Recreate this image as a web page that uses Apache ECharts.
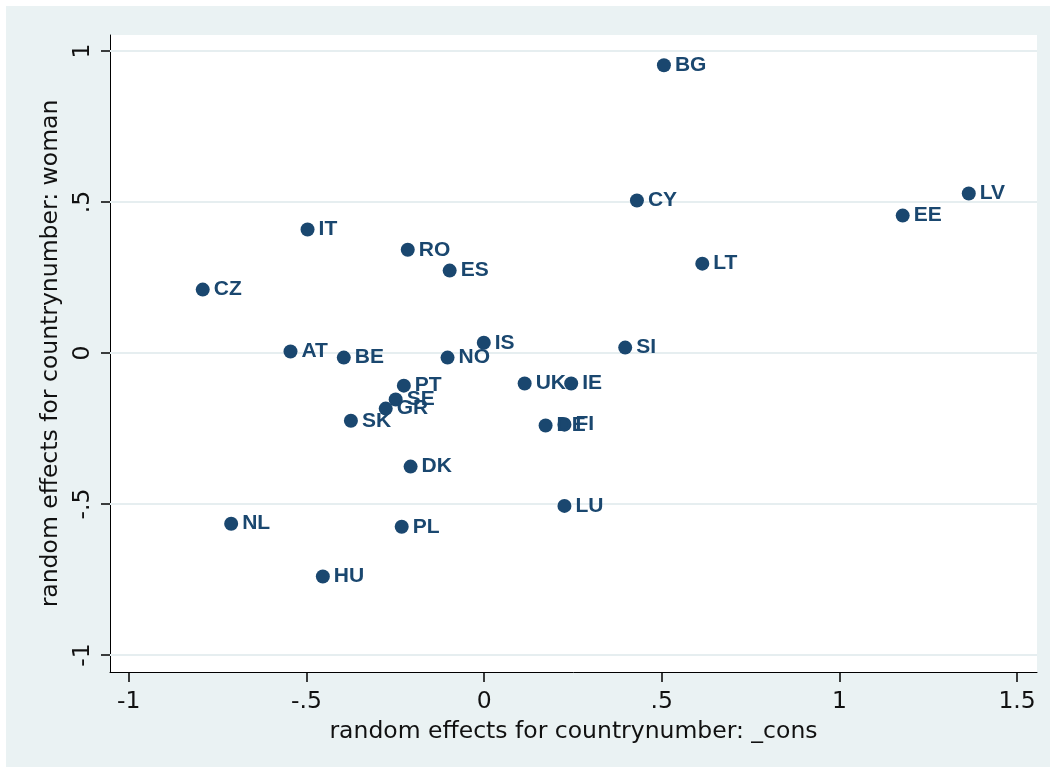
<!DOCTYPE html>
<html>
<head>
<meta charset="utf-8">
<script src="https://cdn.jsdelivr.net/npm/echarts@6/dist/echarts.min.js"></script>
<style>
html,body{margin:0;padding:0;background:#fff;}
#chart{width:1056px;height:773px;}
</style>
</head>
<body>
<div id="chart"></div>
<script>
const countries = ['BG','LV','EE','CY','LT','IT','RO','ES','CZ','IS','SI','AT','BE','NO','PT','UK','IE','SE','GR','SK','DE','FI','DK','LU','NL','PL','HU'];
const consValues = [0.506,1.364,1.178,0.430,0.614,-0.497,-0.215,-0.097,-0.792,-0.001,0.397,-0.545,-0.395,-0.103,-0.226,0.114,0.245,-0.249,-0.277,-0.375,0.173,0.226,-0.207,0.226,-0.712,-0.232,-0.454];
const womanValues = [0.953,0.528,0.455,0.505,0.296,0.409,0.342,0.273,0.210,0.034,0.018,0.005,-0.015,-0.015,-0.108,-0.101,-0.101,-0.154,-0.184,-0.224,-0.240,-0.237,-0.376,-0.506,-0.565,-0.575,-0.740];
const xTicks = [-1,-0.5,0,0.5,1,1.5];
const yTicks = [-1,-0.5,0,0.5,1];
const xTitle = 'random effects for countrynumber: _cons';
const yTitle = 'random effects for countrynumber: woman';

const fmt = v => (Math.abs(v) < 1e-9 ? '0' : String(v).replace('0.', '.'));
const points = countries.map((c, i) => ({ name: c, value: [consValues[i], womanValues[i]] }));
const navy = '#1a476f';
const font = '"Liberation Sans", Arial, sans-serif';
const axisFont = '"DejaVu Sans", sans-serif';

const chart = echarts.init(document.getElementById('chart'));
chart.setOption({
  animation: false,
  backgroundColor: '#ffffff',
  graphic: [
    { type: 'rect', z: -10, silent: true, shape: { x: 6, y: 6, width: 1044, height: 761 }, style: { fill: '#EAF2F3' } },
    { type: 'rect', z: -9, silent: true, shape: { x: 110, y: 35, width: 927, height: 637 }, style: { fill: '#ffffff' } }
  ],
  grid: { left: 110, right: 19, top: 35, bottom: 101, containLabel: false },
  xAxis: {
    type: 'value', min: -1.053, max: 1.556,
    name: xTitle, nameLocation: 'middle', nameGap: 48,
    nameTextStyle: { fontFamily: axisFont, fontSize: 23.5, color: '#111' },
    axisLine: { show: true, onZero: false, lineStyle: { color: '#000', width: 1 } },
    axisTick: { show: true, length: 10, customValues: xTicks, lineStyle: { color: '#000', width: 1.5 } },
    axisLabel: { customValues: xTicks, formatter: fmt, fontFamily: axisFont, fontSize: 23.5, color: '#111', margin: 18 },
    splitLine: { show: false }
  },
  yAxis: {
    type: 'value', min: -1.056, max: 1.053,
    name: yTitle, nameLocation: 'middle', nameGap: 43, nameRotate: 90,
    nameTextStyle: { fontFamily: axisFont, fontSize: 23.5, color: '#111' },
    axisLine: { show: true, onZero: false, lineStyle: { color: '#000', width: 1 } },
    axisTick: { show: true, length: 9, customValues: yTicks, lineStyle: { color: '#000', width: 1.5 } },
    axisLabel: { customValues: yTicks, formatter: fmt, rotate: 90, fontFamily: axisFont, fontSize: 23.5, color: '#111', margin: 15 },
    splitLine: { show: false }
  },
  series: [
    {
      type: 'scatter', data: [], z: 1, silent: true,
      markLine: {
        z: 1, silent: true, symbol: 'none', label: { show: false },
        lineStyle: { color: '#E6EEF0', width: 2, type: 'solid' },
        data: yTicks.map(v => ({ yAxis: v }))
      }
    },
    {
      type: 'scatter', z: 3,
      data: points,
      symbol: 'circle', symbolSize: 14,
      itemStyle: { color: navy, opacity: 1 },
      label: {
        show: true, position: 'right', distance: 4,
        formatter: p => p.name,
        fontFamily: font, fontWeight: 'bold', fontSize: 21, color: navy
      },
      labelLayout: { hideOverlap: false }
    }
  ]
});
</script>
</body>
</html>
